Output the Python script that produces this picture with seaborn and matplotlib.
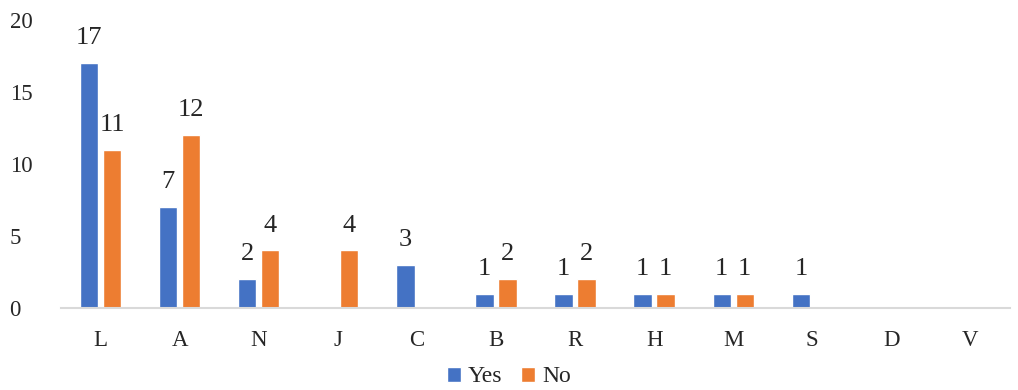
import matplotlib
matplotlib.use("Agg")
import matplotlib.pyplot as plt
import seaborn as sns
import pandas as pd

categories = ["L", "A", "N", "J", "C", "B", "R", "H", "M", "S", "D", "V"]
yes_values = [17, 7, 2, 0, 3, 1, 1, 1, 1, 1, 0, 0]
no_values = [11, 12, 4, 4, 0, 2, 2, 1, 1, 0, 0, 0]
series_names = ["Yes", "No"]
colors = ["#4472C4", "#ED7D31"]

df = pd.DataFrame({
    "cat": categories * 2,
    "val": yes_values + no_values,
    "series": [series_names[0]] * len(categories) + [series_names[1]] * len(categories),
})

sns.set_theme(style="white")
plt.rcParams["font.family"] = ["Liberation Serif", "DejaVu Serif"]

fig = plt.figure(figsize=(10.18, 3.9), dpi=100)
ax = fig.add_axes([61 / 1018, 1 - 308 / 390, (1010 - 61) / 1018, (308 - 20) / 390])

sns.barplot(data=df, x="cat", y="val", hue="series", palette=colors,
            width=0.58, gap=0.2, ax=ax, legend=True, saturation=1)

for cont, vals in zip(ax.containers, [yes_values, no_values]):
    ax.bar_label(cont, labels=[str(v) if v != 0 else "" for v in vals],
                 padding=10, fontsize=19)

ax.set_ylim(0, 20)
ax.set_yticks([0, 5, 10, 15, 20])
ax.set_xlim(-0.5, len(categories) - 0.5)
ax.set_xlabel("")
ax.set_ylabel("")
ax.tick_params(axis="both", length=0, labelsize=16.5)
ax.tick_params(axis="x", pad=16)
ax.tick_params(axis="y", pad=37)
for lab in ax.get_yticklabels():
    lab.set_horizontalalignment("left")
for s in ["top", "right", "left"]:
    ax.spines[s].set_visible(False)
ax.spines["bottom"].set_color("#D9D9D9")
ax.spines["bottom"].set_linewidth(1.5)
ax.grid(False)

leg = ax.legend(loc="center", bbox_to_anchor=(0.5, 1 - 377 / 390), bbox_transform=fig.transFigure,
                ncol=2, frameon=False, fontsize=17, handlelength=0.6, handleheight=0.6,
                handletextpad=0.3, columnspacing=0.8)

fig.savefig("out.png", dpi=100)
